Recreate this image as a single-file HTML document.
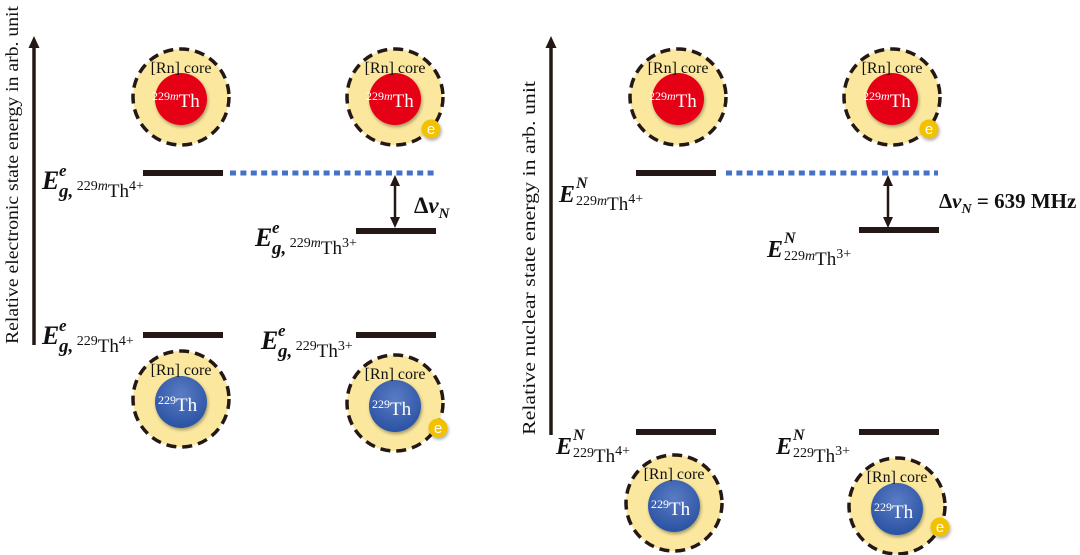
<!DOCTYPE html>
<html><head><meta charset="utf-8"><style>
html,body{margin:0;padding:0;background:#fff;}
svg{display:block;}
.lab{font-family:"Liberation Serif",serif;fill:#111;}
</style></head><body>
<svg width="1080" height="555" viewBox="0 0 1080 555" xmlns="http://www.w3.org/2000/svg">
<defs>
<radialGradient id="blue" cx="50%" cy="35%" r="65%"><stop offset="0" stop-color="#5a7cc4"/><stop offset="1" stop-color="#2a52a3"/></radialGradient>
<filter id="sh" x="-30%" y="-30%" width="160%" height="160%"><feDropShadow dx="1" dy="2" stdDeviation="1.5" flood-color="#000" flood-opacity="0.35"/></filter>
<marker id="ah" markerWidth="12" markerHeight="12" refX="6" refY="6" orient="auto-start-reverse" markerUnits="userSpaceOnUse"><path d="M0,0.5 L12,6 L0,11.5 z" fill="#231815"/></marker>
<marker id="ah2" markerWidth="11" markerHeight="11" refX="5" refY="5.5" orient="auto-start-reverse" markerUnits="userSpaceOnUse"><path d="M0,0.5 L11,5.5 L0,10.5 z" fill="#231815"/></marker>
<g id="atomR">
<circle r="48" fill="#fbe89e" stroke="#231815" stroke-width="3.5" stroke-dasharray="10 6"/>
<circle cy="2" r="26" fill="#e60012" filter="url(#sh)"/>
<text y="-24" text-anchor="middle" class="lab" font-size="16">[Rn] core</text>
<text x="-29" y="10" class="lab" font-size="19" style="fill:#fff"><tspan font-size="12" dy="-7">229</tspan><tspan font-size="12" font-style="italic">m</tspan><tspan dy="7">Th</tspan></text>
</g>
<g id="atomB">
<circle r="48" fill="#fbe89e" stroke="#231815" stroke-width="3.5" stroke-dasharray="10 6"/>
<circle cy="3" r="26" fill="url(#blue)" filter="url(#sh)"/>
<text y="-24" text-anchor="middle" class="lab" font-size="16">[Rn] core</text>
<text x="-23" y="12" class="lab" font-size="19" style="fill:#fff"><tspan font-size="12" dy="-7">229</tspan><tspan dy="7">Th</tspan></text>
</g>
<g id="el">
<circle r="9.5" fill="#f2c100" filter="url(#sh)"/>
<text y="5" text-anchor="middle" font-family="Liberation Sans,sans-serif" font-size="15" fill="#fff">e</text>
</g>
</defs>

<!-- LEFT PANEL -->
<line x1="34" y1="345" x2="34" y2="42" stroke="#231815" stroke-width="3.5" marker-end="url(#ah)"/>
<text transform="translate(18,175) rotate(-90)" text-anchor="middle" class="lab" font-size="18" textLength="338" lengthAdjust="spacingAndGlyphs">Relative electronic state energy in arb. unit</text>

<use href="#atomR" x="181" y="97"/>
<use href="#atomR" x="395" y="97"/><use href="#el" x="431" y="129"/>
<use href="#atomB" x="181" y="399"/>
<use href="#atomB" x="395" y="403"/><use href="#el" x="438" y="428"/>

<g stroke="#231815" stroke-width="6">
<line x1="143" y1="173" x2="223" y2="173"/>
<line x1="356" y1="231" x2="436" y2="231"/>
<line x1="143" y1="335" x2="223" y2="335"/>
<line x1="356" y1="335" x2="436" y2="335"/>
<line x1="636" y1="173" x2="716" y2="173"/>
<line x1="859" y1="230" x2="939" y2="230"/>
<line x1="636" y1="432" x2="716" y2="432"/>
<line x1="859" y1="432" x2="939" y2="432"/>
</g>
<line x1="230" y1="173" x2="437" y2="173" stroke="#4472c4" stroke-width="5" stroke-dasharray="6 4.4"/>
<line x1="726" y1="173" x2="938" y2="173" stroke="#4472c4" stroke-width="5" stroke-dasharray="6 4.4"/>
<line x1="395" y1="181" x2="395" y2="222" stroke="#231815" stroke-width="2.5" marker-start="url(#ah2)" marker-end="url(#ah2)"/>
<line x1="888" y1="181" x2="888" y2="222" stroke="#231815" stroke-width="2.5" marker-start="url(#ah2)" marker-end="url(#ah2)"/>

<g class="lab">
<text x="414" y="213" font-size="23" font-weight="bold">Δ<tspan font-style="italic">ν</tspan><tspan font-style="italic" font-size="15" dy="5">N</tspan></text>
<text x="42" y="189" font-size="26" font-weight="bold" font-style="italic">E</text>
<text x="59" y="176" font-size="17" font-weight="bold" font-style="italic">e</text>
<text x="59" y="197" font-size="19"><tspan font-weight="bold" font-style="italic">g,</tspan><tspan font-size="14" dy="-7"> 229</tspan><tspan font-size="14" font-style="italic">m</tspan><tspan dy="7">Th</tspan><tspan font-size="14" dy="-7">4+</tspan></text>

<text x="255" y="246" font-size="26" font-weight="bold" font-style="italic">E</text>
<text x="272" y="233" font-size="17" font-weight="bold" font-style="italic">e</text>
<text x="272" y="254" font-size="19"><tspan font-weight="bold" font-style="italic">g,</tspan><tspan font-size="14" dy="-7"> 229</tspan><tspan font-size="14" font-style="italic">m</tspan><tspan dy="7">Th</tspan><tspan font-size="14" dy="-7">3+</tspan></text>

<text x="42" y="344" font-size="26" font-weight="bold" font-style="italic">E</text>
<text x="59" y="331" font-size="17" font-weight="bold" font-style="italic">e</text>
<text x="59" y="352" font-size="19"><tspan font-weight="bold" font-style="italic">g,</tspan><tspan font-size="14" dy="-7"> 229</tspan><tspan dy="7">Th</tspan><tspan font-size="14" dy="-7">4+</tspan></text>

<text x="261" y="349" font-size="26" font-weight="bold" font-style="italic">E</text>
<text x="278" y="336" font-size="17" font-weight="bold" font-style="italic">e</text>
<text x="278" y="357" font-size="19"><tspan font-weight="bold" font-style="italic">g,</tspan><tspan font-size="14" dy="-7"> 229</tspan><tspan dy="7">Th</tspan><tspan font-size="14" dy="-7">3+</tspan></text>
</g>

<!-- RIGHT PANEL -->
<line x1="551" y1="435" x2="551" y2="42" stroke="#231815" stroke-width="3.5" marker-end="url(#ah)"/>
<text transform="translate(535,258) rotate(-90)" text-anchor="middle" class="lab" font-size="18" textLength="354" lengthAdjust="spacingAndGlyphs">Relative nuclear state energy in arb. unit</text>

<use href="#atomR" x="678" y="97"/>
<use href="#atomR" x="892" y="97"/><use href="#el" x="929" y="129"/>
<use href="#atomB" x="674" y="503"/>
<use href="#atomB" x="897" y="506"/><use href="#el" x="940" y="527"/>

<g class="lab">
<text x="939" y="208" font-size="21" font-weight="bold">Δ<tspan font-style="italic">ν</tspan><tspan font-style="italic" font-size="14" dy="5">N</tspan><tspan dy="-5"> = 639 MHz</tspan></text>

<text x="559" y="202" font-size="24" font-weight="bold" font-style="italic">E</text>
<text x="576" y="188" font-size="16" font-weight="bold" font-style="italic">N</text>
<text x="576" y="210" font-size="19"><tspan font-size="14" dy="-5">229</tspan><tspan font-size="14" font-style="italic">m</tspan><tspan dy="5">Th</tspan><tspan font-size="14" dy="-7">4+</tspan></text>

<text x="767" y="257" font-size="24" font-weight="bold" font-style="italic">E</text>
<text x="784" y="243" font-size="16" font-weight="bold" font-style="italic">N</text>
<text x="784" y="265" font-size="19"><tspan font-size="14" dy="-5">229</tspan><tspan font-size="14" font-style="italic">m</tspan><tspan dy="5">Th</tspan><tspan font-size="14" dy="-7">3+</tspan></text>

<text x="556" y="454" font-size="24" font-weight="bold" font-style="italic">E</text>
<text x="573" y="440" font-size="16" font-weight="bold" font-style="italic">N</text>
<text x="573" y="462" font-size="19"><tspan font-size="14" dy="-5">229</tspan><tspan dy="5">Th</tspan><tspan font-size="14" dy="-7">4+</tspan></text>

<text x="776" y="454" font-size="24" font-weight="bold" font-style="italic">E</text>
<text x="793" y="440" font-size="16" font-weight="bold" font-style="italic">N</text>
<text x="793" y="462" font-size="19"><tspan font-size="14" dy="-5">229</tspan><tspan dy="5">Th</tspan><tspan font-size="14" dy="-7">3+</tspan></text>
</g>
</svg>
</body></html>
